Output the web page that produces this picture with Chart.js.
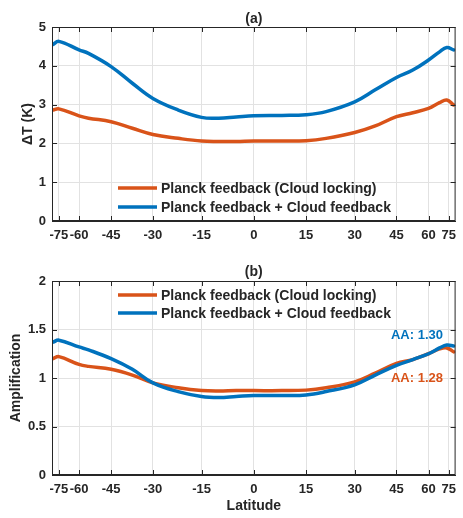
<!DOCTYPE html>
<html lang="en">
<head>
    <meta charset="UTF-8">
    <title>Planck vs Cloud feedback</title>
    <script src="https://cdn.jsdelivr.net/npm/chart.js"></script>
    <style>
        body {
            margin: 0;
            padding: 0;
            background: #ffffff;
            font-family: 'Liberation Sans', Arial, sans-serif;
        }
        .panel {
            position: absolute;
            left: 0;
            width: 463px;
        }
        #panelA { top: 0; height: 250px; }
        #panelB { top: 250px; height: 268px; }
    </style>
</head>
<body>
    <div class="panel" id="panelA"><canvas id="chartA" width="463" height="250"></canvas></div>
    <div class="panel" id="panelB"><canvas id="chartB" width="463" height="268"></canvas></div>

    <script>
        // data (latitude in degrees; x axis is area weighted = sin(lat))
        const latitudes = [-84, -75, -60, -55, -45, -37, -30, -22, -15, -10, -5, 0, 8, 15, 21, 30, 37, 45, 52, 60, 67, 73, 82];
        const tickLats = [-75, -60, -45, -30, -15, 0, 15, 30, 45, 60, 75];

        const dtPlanck = [2.86, 2.89, 2.71, 2.65, 2.56, 2.39, 2.23, 2.13, 2.06, 2.05, 2.05, 2.06, 2.06, 2.07, 2.13, 2.28, 2.45, 2.69, 2.79, 2.90, 3.05, 3.12, 2.99];
        const dtCloud  = [4.55, 4.63, 4.41, 4.32, 3.98, 3.55, 3.16, 2.86, 2.67, 2.65, 2.68, 2.71, 2.72, 2.74, 2.82, 3.07, 3.38, 3.70, 3.89, 4.15, 4.36, 4.47, 4.41];

        const ampPlanck = [1.20, 1.22, 1.14, 1.12, 1.09, 1.03, 0.95, 0.90, 0.87, 0.865, 0.87, 0.87, 0.87, 0.875, 0.90, 0.96, 1.05, 1.15, 1.19, 1.25, 1.30, 1.31, 1.27];
        const ampCloud  = [1.37, 1.39, 1.32, 1.29, 1.20, 1.09, 0.95, 0.86, 0.81, 0.80, 0.81, 0.82, 0.82, 0.825, 0.86, 0.93, 1.03, 1.13, 1.19, 1.25, 1.31, 1.34, 1.33];

        const seriesLabels = ['Planck feedback (Cloud locking)', 'Planck feedback + Cloud feedback'];
        const aaLabels = ['AA: 1.28', 'AA: 1.30'];

        const ORANGE = '#D95319';
        const BLUE = '#0072BD';
        const INK = '#262626';
        const GRID = '#e2e2e2';
        const FONT = "'Liberation Sans', Arial, sans-serif";

        const toX = lat => Math.sin(lat * Math.PI / 180);
        const pts = vals => vals.map((v, i) => ({ x: toX(latitudes[i]), y: v }));

        // box, inward ticks, panel title, legend and notes
        const decorations = {
            id: 'decorations',
            afterDraw(chart, args, opts) {
                const { ctx, chartArea: a, scales } = chart;
                ctx.save();
                ctx.strokeStyle = INK;
                ctx.lineWidth = 1;
                ctx.strokeRect(a.left + 0.5, a.top + 0.5, a.right - a.left - 1, a.bottom - a.top - 1);

                ctx.beginPath();
                scales.x.ticks.forEach(t => {
                    const px = Math.round(scales.x.getPixelForValue(t.value)) + 0.5;
                    ctx.moveTo(px, a.bottom); ctx.lineTo(px, a.bottom - 5);
                    ctx.moveTo(px, a.top); ctx.lineTo(px, a.top + 5);
                });
                scales.y.ticks.forEach(t => {
                    const py = Math.round(scales.y.getPixelForValue(t.value)) + 0.5;
                    ctx.moveTo(a.left, py); ctx.lineTo(a.left + 5, py);
                    ctx.moveTo(a.right, py); ctx.lineTo(a.right - 5, py);
                });
                ctx.stroke();

                ctx.fillStyle = INK;
                ctx.font = 'bold 14px ' + FONT;
                ctx.textAlign = 'center';
                ctx.textBaseline = 'middle';
                ctx.fillText(opts.title, (a.left + a.right) / 2, opts.titleY);

                chart.data.datasets.forEach((ds, i) => {
                    const y = opts.legendY[i];
                    ctx.strokeStyle = ds.borderColor;
                    ctx.lineWidth = 3.5;
                    ctx.beginPath();
                    ctx.moveTo(118, y);
                    ctx.lineTo(157, y);
                    ctx.stroke();
                    ctx.fillStyle = INK;
                    ctx.textAlign = 'left';
                    ctx.fillText(ds.label, 161, y + 1);
                });

                (opts.notes || []).forEach(n => {
                    ctx.fillStyle = n.color;
                    ctx.font = 'bold 13px ' + FONT;
                    ctx.textAlign = 'right';
                    ctx.fillText(n.text, 443, n.y);
                });
                ctx.restore();
            }
        };

        function makeChart(id, orangeVals, blueVals, yMax, yStep, yTitle, titlePad, xHeight, topPad, extra) {
            return new Chart(document.getElementById(id), {
                type: 'line',
                data: {
                    datasets: [
                        { label: seriesLabels[0], data: pts(orangeVals), borderColor: ORANGE, order: 1 },
                        { label: seriesLabels[1], data: pts(blueVals), borderColor: BLUE, order: 0 }
                    ]
                },
                options: {
                    responsive: false,
                    animation: false,
                    layout: { padding: { top: topPad, right: 3, left: 0, bottom: 0 } },
                    elements: {
                        line: { borderWidth: 3.5, tension: 0.4, fill: false, borderCapStyle: 'round' },
                        point: { radius: 0 }
                    },
                    plugins: {
                        legend: { display: false },
                        tooltip: { enabled: false },
                        decorations: extra
                    },
                    scales: {
                        x: {
                            type: 'linear',
                            min: -1,
                            max: 1,
                            afterBuildTicks: s => { s.ticks = tickLats.map(l => ({ value: toX(l) })); },
                            afterFit: s => { s.height = xHeight; },
                            grid: { color: GRID, drawTicks: false },
                            border: { color: INK },
                            ticks: {
                                autoSkip: false,
                                maxRotation: 0,
                                padding: 7,
                                color: INK,
                                font: { family: FONT, size: 13, weight: 'bold' },
                                callback: (v, i) => String(tickLats[i])
                            },
                            title: {
                                display: extra.xTitle !== undefined,
                                text: extra.xTitle || '',
                                color: INK,
                                padding: { top: 0, bottom: 3 },
                                font: { family: FONT, size: 14, weight: 'bold' }
                            }
                        },
                        y: {
                            min: 0,
                            max: yMax,
                            afterFit: s => { s.width = 52; },
                            grid: { color: GRID, drawTicks: false },
                            border: { color: INK },
                            ticks: {
                                stepSize: yStep,
                                padding: 6,
                                color: INK,
                                font: { family: FONT, size: 13, weight: 'bold' },
                                callback: v => String(Math.round(v * 100) / 100)
                            },
                            title: {
                                display: true,
                                text: yTitle,
                                color: INK,
                                padding: { top: titlePad, bottom: 0 },
                                font: { family: FONT, size: 14, weight: 'bold' }
                            }
                        }
                    }
                },
                plugins: [decorations]
            });
        }

        makeChart('chartA', dtPlanck, dtCloud, 5, 1, '\u0394T (K)', 20, 29, 27, {
            title: '(a)', titleY: 19, legendY: [188, 207]
        });

        makeChart('chartB', ampPlanck, ampCloud, 2, 0.5, 'Amplification', 8, 43, 31, {
            title: '(b)', titleY: 22, legendY: [45, 63], xTitle: 'Latitude',
            notes: [
                { text: aaLabels[1], color: BLUE, y: 85 },
                { text: aaLabels[0], color: ORANGE, y: 128 }
            ]
        });
    </script>
</body>
</html>
